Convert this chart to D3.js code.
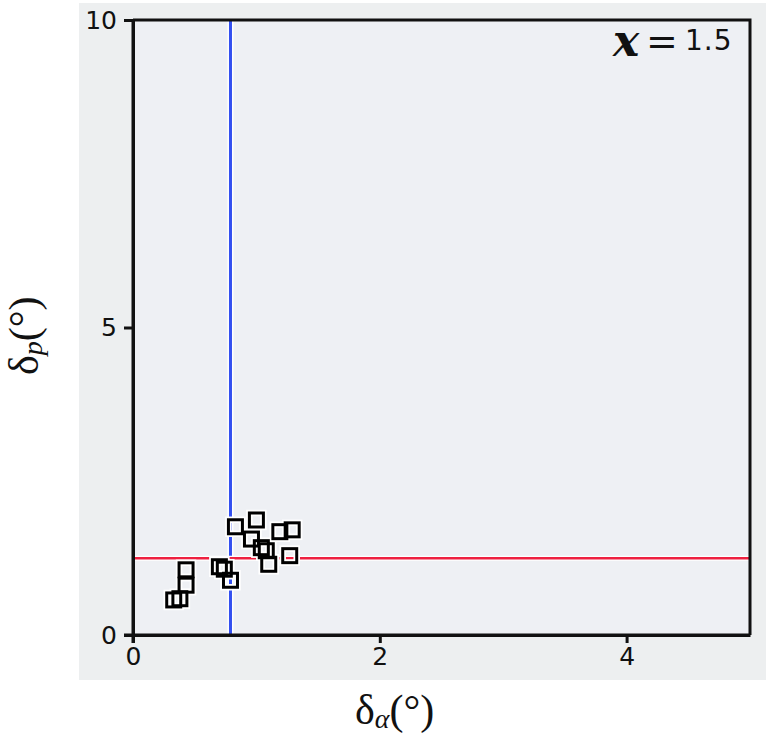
<!DOCTYPE html>
<html>
<head>
<meta charset="utf-8">
<script src="https://cdn.jsdelivr.net/npm/d3@7/dist/d3.min.js"></script>
<style>
  html, body { margin: 0; padding: 0; background: #ffffff; }
  svg { display: block; }
</style>
</head>
<body>
<svg id="chart" width="768" height="738"></svg>
<script>
// ---- data ----
const deltaA = [0.33, 0.38, 0.43, 0.43, 0.70, 0.74, 0.79, 0.83, 1.00, 0.96, 1.04, 1.08, 1.10, 1.19, 1.29, 1.27];
const deltaP = [0.57, 0.59, 0.81, 1.06, 1.11, 1.07, 0.89, 1.76, 1.87, 1.56, 1.42, 1.37, 1.15, 1.68, 1.71, 1.29];
const xTicks = [0, 2, 4];
const yTicks = [0, 5, 10];
const thresholdA = [0.79];   // vertical blue line
const thresholdP = [1.25];   // horizontal red line
const xDomain = [0, 5];
const yDomain = [0, 10];
const xValueLabel = "1.5";

const svg = d3.select("#chart");

// outer panel
svg.append("rect").attr("x", 79).attr("y", 3).attr("width", 687).attr("height", 677)
  .attr("fill", "#edeff0");

const x = d3.scaleLinear().domain(xDomain).range([133, 750]);
const y = d3.scaleLinear().domain(yDomain).range([635, 20]);

// plot area
svg.append("rect").attr("x", x(0)).attr("y", y(10)).attr("width", x(5) - x(0)).attr("height", y(0) - y(10))
  .attr("fill", "#eef0f4");

// threshold lines with light halo
const vlines = svg.append("g");
thresholdA.forEach(v => {
  vlines.append("line").attr("x1", x(v)).attr("x2", x(v)).attr("y1", y(10)).attr("y2", y(0))
    .attr("stroke", "#ffffff").attr("stroke-width", 6);
  vlines.append("line").attr("x1", x(v)).attr("x2", x(v)).attr("y1", y(10)).attr("y2", y(0))
    .attr("stroke", "#3350f0").attr("stroke-width", 3);
});
thresholdP.forEach(v => {
  vlines.append("line").attr("x1", x(0)).attr("x2", x(5)).attr("y1", y(v)).attr("y2", y(v))
    .attr("stroke", "#ffffff").attr("stroke-width", 5);
  vlines.append("line").attr("x1", x(0)).attr("x2", x(5)).attr("y1", y(v)).attr("y2", y(v))
    .attr("stroke", "#ee2040").attr("stroke-width", 2.5);
});

// frame (top & right)
svg.append("path")
  .attr("d", `M${x(0)},${y(10)}H${x(5)}V${y(0)}`)
  .attr("fill", "none").attr("stroke", "#111").attr("stroke-width", 3);

// axes
const xAxis = d3.axisBottom(x).tickValues(xTicks).tickFormat(d3.format("d")).tickSize(8).tickSizeOuter(0).tickPadding(4);
const yAxis = d3.axisLeft(y).tickValues(yTicks).tickFormat(d3.format("d")).tickSize(9).tickSizeOuter(0).tickPadding(7);

const gx = svg.append("g").attr("transform", `translate(0,${y(0)})`).call(xAxis);
const gy = svg.append("g").attr("transform", `translate(${x(0)},0)`).call(yAxis);

[gx, gy].forEach(g => {
  g.select(".domain").attr("stroke", "#111").attr("stroke-width", 3);
  g.selectAll(".tick line").attr("stroke", "#111").attr("stroke-width", 3);
  g.selectAll(".tick text").attr("fill", "#111")
    .style("font-family", "'DejaVu Sans', Verdana, sans-serif").style("font-size", "25px");
});
// extend axis lines past origin
svg.append("line").attr("x1", x(0) - 9).attr("x2", x(5)).attr("y1", y(0)).attr("y2", y(0))
  .attr("stroke", "#111").attr("stroke-width", 3);
svg.append("line").attr("x1", x(0)).attr("x2", x(0)).attr("y1", y(10)).attr("y2", y(0) + 8)
  .attr("stroke", "#111").attr("stroke-width", 3);

// points
const pts = svg.append("g");
const sq = 14;
pts.selectAll("rect.halo").data(deltaA).join("rect").attr("class", "halo")
  .attr("x", (d) => x(d) - sq / 2).attr("y", (d, i) => y(deltaP[i]) - sq / 2)
  .attr("width", sq).attr("height", sq)
  .attr("fill", "none").attr("stroke", "#ffffff").attr("stroke-width", 6.5);
pts.selectAll("rect.pt").data(deltaA).join("rect").attr("class", "pt")
  .attr("x", (d) => x(d) - sq / 2).attr("y", (d, i) => y(deltaP[i]) - sq / 2)
  .attr("width", sq).attr("height", sq)
  .attr("fill", "none").attr("stroke", "#000").attr("stroke-width", 3);

// annotation  x= 1.5
const ann = svg.append("g");
ann.append("text").attr("x", 613).attr("y", 56)
  .style("font-family", "'DejaVu Serif', serif")
  .style("font-style", "italic").style("font-weight", "bold").style("font-size", "44px")
  .attr("fill", "#111").text("x");
ann.append("text").attr("x", 646).attr("y", 54)
  .style("font-family", "'DejaVu Sans', sans-serif").style("font-size", "38px")
  .attr("fill", "#111").text("=");
ann.append("text").attr("x", 685).attr("y", 50)
  .style("font-family", "'DejaVu Sans', Verdana, sans-serif").style("font-size", "28px")
  .style("letter-spacing", "1px")
  .attr("fill", "#111").text(xValueLabel);

// axis titles
const xt = svg.append("text").attr("x", 355).attr("y", 724)
  .style("font-family", "'Liberation Serif', 'Times New Roman', serif").style("font-size", "42px")
  .attr("fill", "#111");
xt.append("tspan").text("δ");
xt.append("tspan").attr("dy", 4).style("font-style", "italic").style("font-size", "28px").text("α");
xt.append("tspan").attr("dy", -4).text("(°)");

const yt = svg.append("text").attr("transform", "translate(38,375) rotate(-90)")
  .style("font-family", "'Liberation Serif', 'Times New Roman', serif").style("font-size", "42px")
  .attr("fill", "#111");
yt.append("tspan").text("δ");
yt.append("tspan").attr("dy", 4).style("font-style", "italic").style("font-size", "28px").text("p");
yt.append("tspan").attr("dy", -4).text("(°)");
</script>
</body>
</html>
